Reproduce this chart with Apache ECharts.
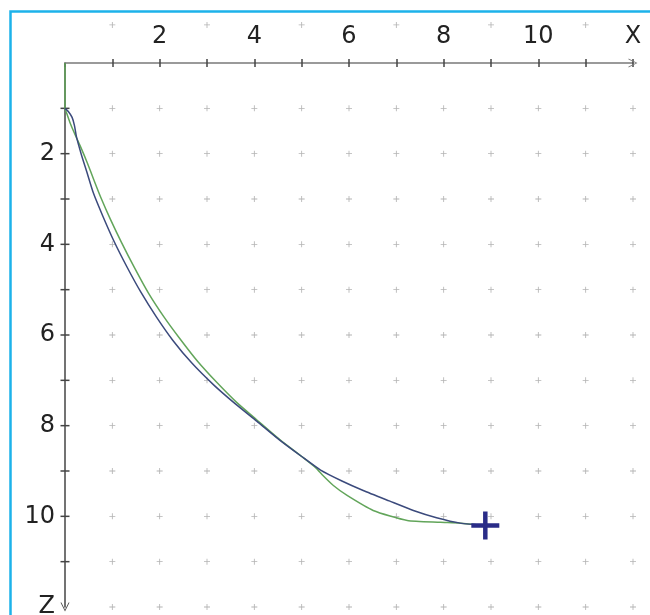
<!DOCTYPE html>
<html>
<head>
<meta charset="utf-8">
<script src="https://cdn.jsdelivr.net/npm/echarts@6/dist/echarts.min.js"></script>
<style>html,body{margin:0;padding:0;background:#fff;}#c{width:650px;height:615px;}</style>
</head>
<body>
<div id="c"></div>
<script>
// Axis ticks / labels
const xTickValues = [2, 4, 6, 8, 10];
const zTickValues = [2, 4, 6, 8, 10];
const zTickMarks = [1,2,3,4,5,6,7,8,9,10,11];
const xAxisName = 'X';
const zAxisName = 'Z';
const gridCols = [1,2,3,4,5,6,7,8,9,10,11,12];
const gridRows = [1,2,3,4,5,6,7,8,9,10,11,12];
const topRowCols = [1,3,5,7,9,11];
const topRowZ = -0.84;

// Blue curve
const blueX = [0, 0.07, 0.15, 0.2, 0.24, 0.34, 0.46, 0.6, 0.8, 1.03, 1.31, 1.6, 1.93, 2.28, 2.68, 3.14, 3.6, 4.05, 4.55, 5.0, 5.4, 5.85, 6.3, 6.85, 7.36, 7.85, 8.35, 8.88];
const blueZ = [1.0, 1.07, 1.2, 1.38, 1.62, 2.0, 2.4, 2.87, 3.38, 3.92, 4.5, 5.05, 5.6, 6.12, 6.62, 7.1, 7.52, 7.9, 8.33, 8.68, 8.98, 9.22, 9.43, 9.66, 9.87, 10.03, 10.15, 10.2];

// Green curve
const greenX = [0, 0, 0.04, 0.1, 0.2, 0.33, 0.47, 0.61, 0.75, 0.96, 1.19, 1.47, 1.76, 2.09, 2.44, 2.8, 3.21, 3.62, 4.06, 4.55, 5.0, 5.3, 5.45, 5.67, 5.96, 6.51, 7.23, 7.93, 8.35, 8.88];
const greenZ = [0, 1.0, 1.12, 1.3, 1.55, 1.85, 2.2, 2.58, 2.95, 3.45, 3.95, 4.52, 5.07, 5.6, 6.1, 6.58, 7.05, 7.48, 7.88, 8.32, 8.68, 8.93, 9.1, 9.32, 9.54, 9.87, 10.09, 10.13, 10.15, 10.2];

// End marker
const endPoint = [8.88, 10.2];

const zip = (a, b) => a.map((v, i) => [v, b[i]]);
const dots = [];
gridCols.forEach(x => gridRows.forEach(z => dots.push([x, z])));
topRowCols.forEach(x => dots.push([x, topRowZ]));
const zTickData = zTickMarks.map(z => [0, z]);

const plusSmall = 'path://M4.3,0H5.7V4.3H10V5.7H5.7V10H4.3V5.7H0V4.3H4.3Z';
const plusBig = 'path://M4.2,0H5.8V4.2H10V5.8H5.8V10H4.2V5.8H0V4.2H4.2Z';
const hBar = 'path://M0,0H10V1H0Z';
const chevron = 'path://M0,10L5,0L10,10L9,10L5,2L1,10Z';
const font = 'DejaVu Sans';

const xFmt = v => (v === 12 ? xAxisName : (xTickValues.indexOf(v) >= 0 ? String(v) : ''));
const zFmt = v => (v === 12 ? zAxisName : (zTickValues.indexOf(v) >= 0 ? String(v) : ''));

const chart = echarts.init(document.getElementById('c'), null, {renderer: 'canvas'});
chart.setOption({
  backgroundColor: '#fff',
  animation: false,
  grid: {left: 65, top: 63, right: 17, bottom: 8, outerBoundsMode: 'none', containLabel: false},
  graphic: [{
    type: 'rect', left: 8, top: 9, silent: true,
    shape: {width: 700, height: 700},
    style: {fill: 'none', stroke: '#1db2ea', lineWidth: 2.5}
  }],
  xAxis: [{
    type: 'value', position: 'top', min: 0, max: 12, interval: 1,
    axisLine: {show: true, onZero: false, lineStyle: {color: '#7a7a7a', width: 1.5}, symbol: ['none', chevron], symbolSize: [9, 14]},
    axisTick: {show: true, length: 4, lineStyle: {color: '#444', width: 1.5}},
    axisLabel: {formatter: xFmt, fontSize: 24, color: '#222', margin: 14, fontFamily: font, showMaxLabel: true, showMinLabel: false},
    splitLine: {show: false}
  }, {
    type: 'value', position: 'top', min: 0, max: 12, interval: 1,
    axisLine: {show: false, onZero: false},
    axisTick: {show: true, inside: true, length: 4, lineStyle: {color: '#444', width: 1.5}},
    axisLabel: {show: false}, splitLine: {show: false}
  }],
  yAxis: [{
    type: 'value', position: 'left', inverse: true, min: 0, max: 12, interval: 1,
    axisLine: {show: true, onZero: false, lineStyle: {color: '#444', width: 1.5}, symbol: [chevron, 'none'], symbolSize: [9, 14]},
    axisTick: {show: false},
    axisLabel: {formatter: zFmt, fontSize: 24, color: '#222', margin: 10, fontFamily: font, showMaxLabel: true, showMinLabel: false},
    splitLine: {show: false}
  }],
  series: [{
    type: 'scatter', data: dots, symbol: plusSmall, symbolSize: 6, clip: false, silent: true,
    itemStyle: {color: '#b4b4b4', opacity: 1}, z: 1
  }, {
    type: 'scatter', data: zTickData, symbol: hBar, symbolSize: [9, 1.5], clip: false, silent: true,
    itemStyle: {color: '#444', opacity: 1}, z: 2
  }, {
    type: 'line', data: zip(greenX, greenZ), showSymbol: false, smooth: 0.2, clip: false,
    lineStyle: {color: '#62a55a', width: 1.5}, z: 3
  }, {
    type: 'line', data: zip(blueX, blueZ), showSymbol: false, smooth: 0.2, clip: false,
    lineStyle: {color: '#3b4a7c', width: 1.5}, z: 4
  }, {
    type: 'scatter', data: [endPoint], symbol: plusBig, symbolSize: 28, silent: true,
    itemStyle: {color: '#2a2c88', opacity: 1}, z: 5
  }]
});
</script>
</body>
</html>
